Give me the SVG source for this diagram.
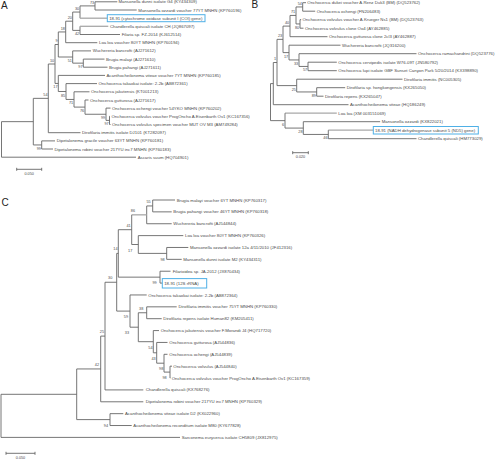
<svg xmlns="http://www.w3.org/2000/svg" width="498" height="460" viewBox="0 0 498 460">
<style>
text{font-family:"Liberation Sans",Arial,sans-serif;fill:#4a4a4a}
.lf{font-size:4.3px}
.bs{font-size:3.8px;text-anchor:end}
.pl{font-size:10px;fill:#222}
.sc{font-size:3.8px;text-anchor:middle}
.br path{fill:none;stroke:#666;stroke-width:0.9}
.br path.lt{stroke:#a8a8a8;stroke-width:1.3}
.box{fill:none;stroke:#4fb0e6;stroke-width:1}
</style>
<rect width="498" height="460" fill="#fff"/>
<!-- Panel letters -->
<text class="pl" x="1" y="8.5">A</text>
<text class="pl" x="251.5" y="8">B</text>
<text class="pl" x="1.5" y="205.5">C</text>

<!-- ===== Connectors ===== -->
<g id="connectors" class="br">
<!-- Panel A -->
<path d="M117.3 1.8H95V10H136.7"/>
<path d="M95 5.9H80V18.2"/>
<path class="lt" d="M80 18.2H107.3"/>
<path d="M80 26.3V34.5H120"/>
<path class="lt" d="M108.3 26.3H80"/>
<path d="M80 12.05H72.7V30.4H80"/>
<path d="M72.7 21.2H65.7V42.7H97.3"/>
<path d="M104.5 59.1H83.3V67.2H107.5"/>
<path d="M91 50.9H72.7V63.15H83.3"/>
<path d="M65.7 31.95H58.3V57H72.7"/>
<path d="M110 116.3H109.5V124.5H110.5"/>
<path d="M110.5 108.1H106V120.4H109.5"/>
<path d="M88.5 100H85V114.25H106"/>
<path d="M89.5 91.8H74V107.1H85"/>
<path d="M97 83.6H66V99.45H74"/>
<path d="M105 75.4H58.3V91.5H66"/>
<path d="M58.3 44.5H55V83.45H58.3"/>
<path d="M55 64H48.3V132.7H80.5"/>
<path d="M55 140.9H41.7V149H53"/>
<path d="M48.3 98.35H33.3V144.95H41.7"/>
<path d="M33.3 121.65H1.5V157.2H136"/>
<path d="M16.7 169.3H41.7M16.7 167.8V170.8M41.7 167.8V170.8"/>
<!-- Panel B -->
<path d="M306 2.7H302.7V11.2H315.2"/>
<path d="M301.2 19.7H300V28.2H303.5"/>
<path d="M302.7 6.95H296V23.95H300"/>
<path d="M296 15.45H290V36.7H327.5"/>
<path d="M336.8 62.2H308V70.7H336.8"/>
<path d="M416.5 53.7H299V66.45H308"/>
<path d="M340.5 45.2H289V59.95H299"/>
<path d="M290 26.1H283V52.6H289"/>
<path d="M345.2 87.7H316.7V96.2H323.5"/>
<path d="M402.5 79.2H296.7V91.95H316.7"/>
<path d="M283 39.35H277V85.6H296.7"/>
<path d="M277 62.5H273.3V104.7H348.5"/>
<path class="lt" d="M373.3 130.2H328.3"/>
<path d="M328.3 130.2V138.7H416.5"/>
<path d="M380.2 121.7H303.3V134.45H328.3"/>
<path class="lt" d="M336.8 113.2H285"/>
<path d="M285 113.2V128.08H303.3"/>
<path d="M273.3 83.6H270.5V120.64H285"/>
<path d="M292.7 152.7H308.3M292.7 151.2V154.2M308.3 151.2V154.2"/>
<!-- Panel C -->
<path d="M175 200H152.7V211.87H171.7"/>
<path d="M152.7 205.94H146.7V223.74H171.7"/>
<path d="M183.3 235.61H138.3V253.4H166.7"/>
<path d="M188.3 247.48H166.7V259.35H181.7"/>
<path class="lt" d="M146.7 214.84H131.7"/>
<path d="M131.7 214.84V244.5H138.3"/>
<path d="M170.5 271.22H160V283.09H162.3"/>
<path d="M131.7 229.7H118.3V277.15H160"/>
<path d="M118.3 253.4H116.7V311.1H130"/>
<path d="M146.7 294.96H130V327.2H138.3"/>
<path d="M176.7 306.83H146.7V318.7H161.7"/>
<path d="M146.7 312.75H138.3V341.7H153.3"/>
<path d="M159 330.57H153.3V352.8H156.7"/>
<path d="M167.5 342.44H156.7V363.2H164"/>
<path d="M167.5 354.31H164V372.1H170"/>
<path d="M172 366.18H170V378.05H170.3"/>
<path d="M116.7 282.25H105V389.92H143.3"/>
<path d="M105 336.1H100.7V401.79H143.3"/>
<path d="M123.3 413.66H110V425.53H131.7"/>
<path d="M100.7 368.95H76.7V419.6H110"/>
<path d="M76.7 394.3H1V437.4H180"/>
<path d="M6 453.3H35M6 451.8V454.8M35 451.8V454.8"/>
</g>

<!-- ===== Panel A nodes ===== -->
<g id="panelA">
<g id="A-dunni"><text class="lf" x="118.5" y="3.3">Mansonella dunni isolate G4 (KY434309)</text></g>
<g id="A-ozzardi"><text class="lf" x="138.3" y="11.5">Mansonella ozzardi voucher 77YT MNHN (KP760196)</text></g>
<g id="A-1891"><rect class="box" x="107.3" y="14.7" width="97.7" height="7"/><text class="lf" x="109.2" y="19.7">18-91 (cytochrome oxidase subunit I (COI) gene)</text></g>
<g id="A-chand"><text class="lf" x="110" y="27.8">Chandlerella quiscali isolate CH (JQ867097)</text></g>
<g id="A-filaria"><text class="lf" x="121.7" y="36">Filaria sp. FZ-2014 (KJ612514)</text></g>
<g id="A-loa"><text class="lf" x="99" y="44.2">Loa loa voucher 80YT MNHN (KP760194)</text></g>
<g id="A-wuch"><text class="lf" x="92.7" y="52.4">Wuchereria bancrofti (AJ271612)</text></g>
<g id="A-bmal"><text class="lf" x="106" y="60.6">Brugia malayi (AJ271610)</text></g>
<g id="A-bpah"><text class="lf" x="109" y="68.7">Brugia pahangi (AJ271611)</text></g>
<g id="A-acan"><text class="lf" x="106.5" y="76.9">Acanthocheilonema viteae voucher 7YT MNHN (KP760185)</text></g>
<g id="A-tak"><text class="lf" x="98.5" y="85.1">Onchocerca takaokai isolate: 2-2b (AB872361)</text></g>
<g id="A-jak"><text class="lf" x="91" y="93.3">Onchocerca jakutensis (KT001213)</text></g>
<g id="A-gutt"><text class="lf" x="90" y="101.5">Onchocerca gutturosa (AJ271617)</text></g>
<g id="A-och"><text class="lf" x="112" y="109.6">Onchocerca ochengi voucher 54YKO MNHN (KP760202)</text></g>
<g id="A-volv"><text class="lf" x="111.5" y="117.8">Onchocerca volvulus voucher ProgOncho A.Eisenbarth Ov1 (KC167356)</text></g>
<g id="A-volvs"><text class="lf" x="112" y="126">Onchocerca volvulus specimen voucher MUT OV M3 (AM749284)</text></g>
<g id="A-diro"><text class="lf" x="82" y="134.2">Dirofilaria immitis isolate DJ101 (KT282097)</text></g>
<g id="A-grac"><text class="lf" x="56.7" y="142.4">Dipetalonema gracile voucher 63YT MNHN (KP760181)</text></g>
<g id="A-rob"><text class="lf" x="54.5" y="150.5">Dipetalonema robini voucher 217YU inc7 MNHN (KP760183)</text></g>
<g id="A-asc"><text class="lf" x="137.7" y="158.7">Ascaris suum (HQ704901)</text></g>
<g id="A-scale"><text class="sc" x="29.2" y="175">0.050</text></g>
<g id="A-bootstrap">
<text class="bs" x="94.2" y="3.6">73</text>
<text class="bs" x="79.2" y="9.75">30</text>
<text class="bs" x="71.9" y="18.9">20</text>
<text class="bs" x="79.2" y="35.4">42</text>
<text class="bs" x="64.9" y="29.65">18</text>
<text class="bs" x="57.5" y="42.2">9</text>
<text class="bs" x="71.9" y="62">51</text>
<text class="bs" x="82.5" y="68.15">97</text>
<text class="bs" x="54.2" y="61.7">10</text>
<text class="bs" x="57.5" y="88.45">17</text>
<text class="bs" x="65.2" y="96.5">85</text>
<text class="bs" x="73.2" y="104.45">71</text>
<text class="bs" x="84.2" y="112.1">76</text>
<text class="bs" x="105.2" y="119.25">99</text>
<text class="bs" x="108.7" y="125.4">97</text>
<text class="bs" x="47.5" y="96.05">54</text>
<text class="bs" x="40.9" y="149.95">99</text>
</g>
</g>

<!-- ===== Panel B nodes ===== -->
<g id="panelB">
<g id="B-dukei"><text class="lf" x="307.3" y="4.2">Onchocerca dukei voucher A.Renz Duk3 (BM) (DQ523762)</text></g>
<g id="B-och"><text class="lf" x="316.7" y="12.7">Onchocerca ochengi (FN206483)</text></g>
<g id="B-volvk"><text class="lf" x="302.5" y="21.2">Onchocerca volvulus voucher A.Krueger Ns1 (BM) (DQ523763)</text></g>
<g id="B-volvc"><text class="lf" x="305" y="29.7">Onchocerca volvulus clone Oo4 (AY462885)</text></g>
<g id="B-gutt"><text class="lf" x="329" y="38.2">Onchocerca gutturosa clone 2cl3 (AY462887)</text></g>
<g id="B-wuch"><text class="lf" x="342" y="46.7">Wuchereria bancrofti (JQ316200)</text></g>
<g id="B-ram"><text class="lf" x="418" y="55.2">Onchocerca ramachandrini (DQ523776)</text></g>
<g id="B-cerv"><text class="lf" x="338.3" y="63.7">Onchocerca cervipedis isolate W76-09T (JN580792)</text></g>
<g id="B-lupi"><text class="lf" x="338.3" y="72.2">Onchocerca lupi isolate GBF Sunset Canyon Park 5/20/2014 (KX398890)</text></g>
<g id="B-dimm"><text class="lf" x="404" y="80.7">Dirofilaria immitis (NC005305)</text></g>
<g id="B-dhong"><text class="lf" x="346.7" y="89.2">Dirofilaria sp. hongkongensis (KX265050)</text></g>
<g id="B-drep"><text class="lf" x="325" y="97.7">Dirofilaria repens (KX265047)</text></g>
<g id="B-acan"><text class="lf" x="350" y="106.2">Acanthocheilonema viteae (HQ186249)</text></g>
<g id="B-loa"><text class="lf" x="338.3" y="114.7">Loa loa (XM 003151069)</text></g>
<g id="B-mozz"><text class="lf" x="381.7" y="123.2">Mansonella ozzardi (KX822021)</text></g>
<g id="B-1891"><rect class="box" x="373.3" y="126.5" width="105" height="7.5"/><text class="lf" x="375" y="131.7">18-91 (NADH dehydrogenase subunit 5 (ND5) gene)</text></g>
<g id="B-chand"><text class="lf" x="418" y="140.2">Chandlerella quiscali (HM773029)</text></g>
<g id="B-scale"><text class="sc" x="300.5" y="158.3">0.020</text></g>
<g id="B-bootstrap">
<text class="bs" x="301.9" y="4.65">54</text>
<text class="bs" x="299.2" y="28.95">80</text>
<text class="bs" x="295.2" y="13.15">71</text>
<text class="bs" x="289.2" y="23.8">40</text>
<text class="bs" x="307.2" y="71.45">57</text>
<text class="bs" x="298.2" y="64.95">33</text>
<text class="bs" x="288.2" y="57.6">17</text>
<text class="bs" x="282.2" y="37.05">23</text>
<text class="bs" x="315.9" y="96.95">89</text>
<text class="bs" x="295.9" y="90.6">25</text>
<text class="bs" x="276.2" y="60.2">1</text>
<text class="bs" x="327.5" y="139.45">46</text>
<text class="bs" x="302.5" y="133.1">28</text>
<text class="bs" x="284.2" y="125.64">6</text>
</g>
</g>

<!-- ===== Panel C nodes ===== -->
<g id="panelC">
<g id="C-bmal"><text class="lf" x="176.7" y="201.5">Brugia malayi voucher 6YT MNHN (KP760317)</text></g>
<g id="C-bpah"><text class="lf" x="173.3" y="213.4">Brugia pahangi voucher 46YT MNHN (KP760318)</text></g>
<g id="C-wuch"><text class="lf" x="173.3" y="225.2">Wuchereria bancrofti (AJ544844)</text></g>
<g id="C-loa"><text class="lf" x="185" y="237.1">Loa loa voucher 80YT MNHN (KP760326)</text></g>
<g id="C-mozz"><text class="lf" x="190" y="249">Mansonella ozzardi isolate 12a 4/11/2010 (JF412316)</text></g>
<g id="C-mdun"><text class="lf" x="183.2" y="260.9">Mansonella dunni isolate M2 (KY434311)</text></g>
<g id="C-filo"><text class="lf" x="172.7" y="272.7">Filarioidea sp. JA-2012 (JX870434)</text></g>
<g id="C-1891"><rect class="box" x="162.3" y="278.6" width="44.4" height="9.4"/><text class="lf" x="164.2" y="284.6">18-91 (12S rRNA)</text></g>
<g id="C-tak"><text class="lf" x="148.3" y="296.5">Onchocerca takaokai isolate: 2-2b (AB872364)</text></g>
<g id="C-dimm"><text class="lf" x="178.5" y="308.3">Dirofilaria immitis voucher 75YT MNHN (KP760330)</text></g>
<g id="C-drep"><text class="lf" x="163.3" y="320.2">Dirofilaria repens isolate Human82 (KM205411)</text></g>
<g id="C-jak"><text class="lf" x="160.7" y="332.1">Onchocerca jakutensis voucher F.Morandi J4 (HQ717720)</text></g>
<g id="C-gutt"><text class="lf" x="169.3" y="343.9">Onchocerca gutturosa (AJ544836)</text></g>
<g id="C-och"><text class="lf" x="169.3" y="355.8">Onchocerca ochengi (AJ544839)</text></g>
<g id="C-volv"><text class="lf" x="173.3" y="367.7">Onchocerca volvulus (AJ544840)</text></g>
<g id="C-volvp"><text class="lf" x="171.7" y="379.6">Onchocerca volvulus voucher ProgOncho A.Eisenbarth Ov1 (KC167359)</text></g>
<g id="C-chand"><text class="lf" x="145.7" y="391.4">Chandlerella quiscali (KX768276)</text></g>
<g id="C-rob"><text class="lf" x="145.7" y="403.3">Dipetalonema robini voucher 217YU inc7 MNHN (KP760329)</text></g>
<g id="C-avit"><text class="lf" x="125" y="415.2">Acanthocheilonema viteae isolate D2 (KX022960)</text></g>
<g id="C-arec"><text class="lf" x="133.3" y="427">Acanthocheilonema reconditum isolate M80 (KY677828)</text></g>
<g id="C-sarc"><text class="lf" x="181.7" y="438.9">Sarconema eurycerca isolate CH5809 (JX812975)</text></g>
<g id="C-scale"><text class="sc" x="20.5" y="459">0.050</text></g>
<g id="C-bootstrap">
<text class="bs" x="150.7" y="202.7">55</text>
<text class="bs" x="135" y="211.6">86</text>
<text class="bs" x="130.7" y="226.5">41</text>
<text class="bs" x="132.3" y="251.6">17</text>
<text class="bs" x="164.7" y="260.5">98</text>
<text class="bs" x="117.5" y="250.2">14</text>
<text class="bs" x="156.7" y="284.25">99</text>
<text class="bs" x="112.3" y="279.05">30</text>
<text class="bs" x="143.3" y="309.55">38</text>
<text class="bs" x="128" y="318.2">59</text>
<text class="bs" x="104" y="332.9">25</text>
<text class="bs" x="129" y="334.3">33</text>
<text class="bs" x="152.5" y="348.8">54</text>
<text class="bs" x="155.7" y="359.9">43</text>
<text class="bs" x="163.3" y="370.3">98</text>
<text class="bs" x="166.7" y="379.2">98</text>
<text class="bs" x="99" y="365.75">42</text>
<text class="bs" x="108" y="426.7">94</text>
</g>
</g>
</svg>
